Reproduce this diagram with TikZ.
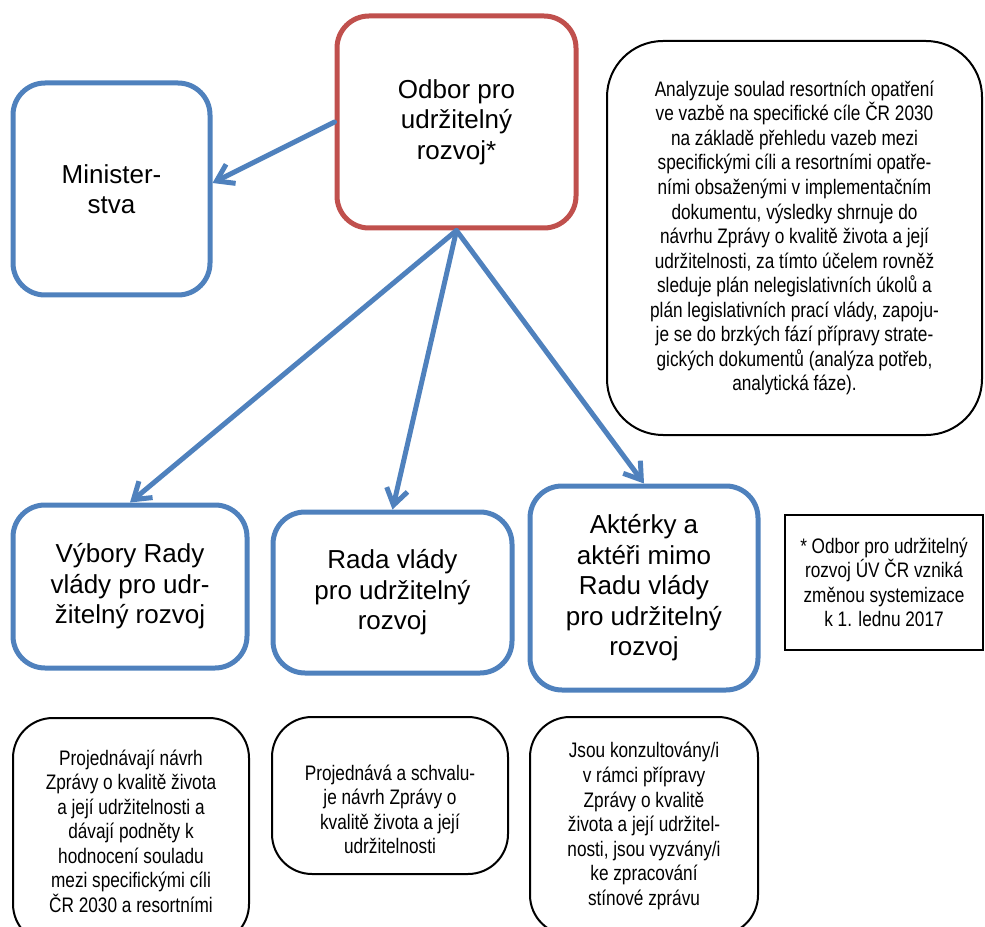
\documentclass[tikz,border=0pt]{standalone}
\usepackage{fontspec}
\setmainfont{Liberation Sans}
\newfontfamily\narrowfont{Liberation Sans}[FakeStretch=0.82]
\usepackage{tikz}
\usetikzlibrary{arrows.meta}
\newdimen\unitpx
\unitpx=0.75pt
\definecolor{boxblue}{HTML}{4F81BD}
\definecolor{boxred}{HTML}{C0504D}
\tikzstyle{bigbox}=[draw=boxblue,line width=5*\unitpx,rounded corners=32*\unitpx,align=center,inner sep=0pt,font=\fontsize{19.5pt}{22.9pt}\selectfont]
\tikzstyle{redbox}=[bigbox,draw=boxred]
\tikzstyle{notetext}=[align=center,inner sep=0pt,font=\narrowfont\fontsize{15.75pt}{18.4pt}\selectfont]
\tikzstyle{notebox}=[notetext,draw=black,line width=2*\unitpx,rounded corners=40*\unitpx]
\tikzstyle{starbox}=[notetext,draw=black,line width=2*\unitpx,sharp corners]
\tikzstyle{link}=[draw=boxblue,line width=5*\unitpx,line cap=round,line join=round,-{Straight Barb[length=12pt,width=16pt]}]

\begin{document}
\begin{tikzpicture}[x=0.75pt,y=-0.75pt]
\useasboundingbox (0,0) rectangle (985,927);
\clip (0,0) rectangle (985,927);

% upper row
\node[bigbox,minimum width=197*\unitpx,minimum height=212*\unitpx] (mini) at (111.5,189) {Minister-\\stva};
\node[redbox,minimum width=239*\unitpx,minimum height=212*\unitpx] (odbor) at (456.5,122) {Odbor pro\\udržitelný\\rozvoj*};
\node[notebox,rounded corners=56*\unitpx,minimum width=375*\unitpx,minimum height=394*\unitpx] (analyza) at (794.5,238) {Analyzuje soulad resortních opatření\\ve vazbě na specifické cíle ČR 2030\\na základě přehledu vazeb mezi\\specifickými cíli a resortními opatře-\\ními obsaženými v implementačním\\dokumentu, výsledky shrnuje do\\návrhu Zprávy o kvalitě života a její\\udržitelnosti, za tímto účelem rovněž\\sleduje plán nelegislativních úkolů a\\plán legislativních prací vlády, zapoju-\\je se do brzkých fází přípravy strate-\\gických dokumentů (analýza potřeb,\\analytická fáze).};

% middle row
\node[bigbox,minimum width=234*\unitpx,minimum height=163*\unitpx] (vybory) at (130,586.5) {Výbory Rady\\vlády pro udr-\\žitelný rozvoj};
\node[bigbox,minimum width=239*\unitpx,minimum height=161*\unitpx] (rada) at (392.5,592.5) {Rada vlády\\pro udržitelný\\rozvoj};
\node[bigbox,minimum width=228*\unitpx,minimum height=204*\unitpx] (akter) at (644,588) {Aktérky a\\aktéři mimo\\Radu vlády\\pro udržitelný\\rozvoj};
\node[starbox,minimum width=198*\unitpx,minimum height=135*\unitpx] (pozn) at (884,582.5) {* Odbor pro udržitelný\\rozvoj ÚV ČR vzniká\\změnou systemizace\\k 1. lednu 2017};

% lower row
\node[notebox,minimum width=236*\unitpx,minimum height=226*\unitpx] (vyborytxt) at (131,831) {Projednávají návrh\\Zprávy o kvalitě života\\a její udržitelnosti a\\dávají podněty k\\hodnocení souladu\\mezi specifickými cíli\\ČR 2030 a resortními};
\node[notebox,minimum width=236*\unitpx,minimum height=157*\unitpx] (radatxt) at (390,795.5) {};
\node[notetext] (radanote) at ([yshift=-14*\unitpx]radatxt.center) {Projednává a schvalu-\\je návrh Zprávy o\\kvalitě života a její\\udržitelnosti};
\node[notebox,minimum width=228*\unitpx,minimum height=218*\unitpx] (aktertxt) at (644,826) {Jsou konzultovány/i\\v rámci přípravy\\Zprávy o kvalitě\\života a její udržitel-\\nosti, jsou vyzvány/i\\ke zpracování\\stínové zprávu};

% arrows
\draw[link] (odbor.west) -- ([yshift=6*\unitpx]mini.east);
\draw[link] (odbor.south) -- (vybory.north);
\draw[link] (odbor.south) -- (rada.north);
\draw[link] (odbor.south) -- (akter.north);
\end{tikzpicture}
\end{document}
